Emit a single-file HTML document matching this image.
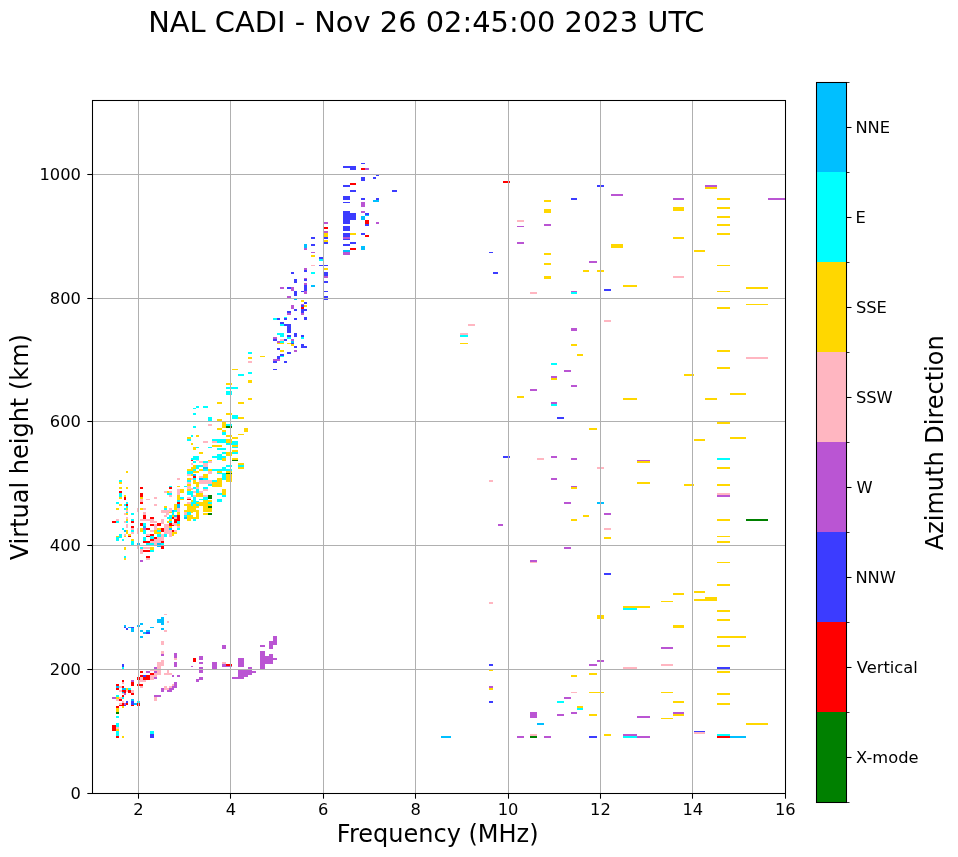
<!DOCTYPE html>
<html><head><meta charset="utf-8"><title>NAL CADI ionogram</title>
<style>
html,body{margin:0;padding:0;background:#fff}
body{width:958px;height:857px;overflow:hidden;font-family:"DejaVu Sans","Liberation Sans",sans-serif}
svg{display:block}
text{font-family:"DejaVu Sans","Liberation Sans",sans-serif;fill:#000}
</style></head><body>
<svg width="958" height="857" viewBox="0 0 958 857">
<rect width="958" height="857" fill="#fff"/>
<g id="cells" shape-rendering="crispEdges">
<rect x="122" y="664" width="2" height="3" fill="#3c3cff"/>
<rect x="122" y="667" width="2" height="2" fill="#00ffff"/>
<rect x="154" y="667" width="3" height="2" fill="#ba55d3"/>
<rect x="157" y="664" width="7" height="2" fill="#ffb6c1"/>
<rect x="157" y="666" width="4" height="3" fill="#ffb6c1"/>
<rect x="174" y="664" width="3" height="3" fill="#ba55d3"/>
<rect x="191" y="666" width="2" height="1" fill="#ba55d3"/>
<rect x="199" y="667" width="1" height="2" fill="#ba55d3"/>
<rect x="199" y="670" width="1" height="3" fill="#ba55d3"/>
<rect x="140" y="671" width="3" height="2" fill="#ff0000"/>
<rect x="146" y="671" width="4" height="2" fill="#ba55d3"/>
<rect x="154" y="671" width="3" height="2" fill="#ba55d3"/>
<rect x="157" y="669" width="4" height="6" fill="#ffb6c1"/>
<rect x="150" y="670" width="7" height="1" fill="#ffb6c1"/>
<rect x="150" y="673" width="4" height="2" fill="#ff0000"/>
<rect x="154" y="673" width="3" height="4" fill="#ffb6c1"/>
<rect x="164" y="673" width="8" height="2" fill="#ffb6c1"/>
<rect x="167" y="670" width="2" height="3" fill="#ffb6c1"/>
<rect x="172" y="675" width="2" height="2" fill="#ba55d3"/>
<rect x="177" y="675" width="3" height="2" fill="#ba55d3"/>
<rect x="140" y="675" width="3" height="2" fill="#ff0000"/>
<rect x="143" y="675" width="3" height="2" fill="#3c3cff"/>
<rect x="146" y="675" width="4" height="5" fill="#ff0000"/>
<rect x="143" y="677" width="3" height="3" fill="#ff0000"/>
<rect x="150" y="675" width="4" height="5" fill="#ffb6c1"/>
<rect x="154" y="677" width="3" height="2" fill="#ba55d3"/>
<rect x="137" y="677" width="3" height="3" fill="#ff0000"/>
<rect x="140" y="677" width="3" height="5" fill="#ffb6c1"/>
<rect x="143" y="680" width="3" height="2" fill="#ffb6c1"/>
<rect x="139" y="680" width="1" height="4" fill="#ffb6c1"/>
<rect x="122" y="680" width="2" height="2" fill="#ff0000"/>
<rect x="131" y="680" width="3" height="2" fill="#ba55d3"/>
<rect x="122" y="682" width="2" height="2" fill="#ffb6c1"/>
<rect x="131" y="682" width="3" height="4" fill="#ff0000"/>
<rect x="116" y="684" width="3" height="2" fill="#ff0000"/>
<rect x="137" y="684" width="6" height="2" fill="#ff0000"/>
<rect x="140" y="686" width="3" height="2" fill="#ffb6c1"/>
<rect x="116" y="686" width="3" height="2" fill="#00bfff"/>
<rect x="119" y="686" width="3" height="2" fill="#ffb6c1"/>
<rect x="122" y="686" width="2" height="2" fill="#ff0000"/>
<rect x="116" y="688" width="3" height="2" fill="#ff0000"/>
<rect x="122" y="688" width="4" height="2" fill="#00bfff"/>
<rect x="126" y="688" width="2" height="2" fill="#ffd700"/>
<rect x="128" y="688" width="3" height="2" fill="#00ffff"/>
<rect x="119" y="690" width="3" height="2" fill="#ffb6c1"/>
<rect x="122" y="690" width="4" height="3" fill="#ff0000"/>
<rect x="126" y="690" width="2" height="2" fill="#ffb6c1"/>
<rect x="128" y="690" width="3" height="3" fill="#ff0000"/>
<rect x="131" y="690" width="3" height="3" fill="#ffb6c1"/>
<rect x="122" y="692" width="2" height="1" fill="#00bfff"/>
<rect x="122" y="693" width="2" height="1" fill="#ffb6c1"/>
<rect x="124" y="693" width="2" height="2" fill="#ba55d3"/>
<rect x="131" y="693" width="3" height="2" fill="#ff0000"/>
<rect x="116" y="695" width="3" height="2" fill="#00ffff"/>
<rect x="122" y="695" width="2" height="2" fill="#ff0000"/>
<rect x="112" y="697" width="4" height="2" fill="#ba55d3"/>
<rect x="116" y="697" width="3" height="2" fill="#ffd700"/>
<rect x="119" y="697" width="3" height="2" fill="#ffb6c1"/>
<rect x="122" y="697" width="2" height="2" fill="#00ffff"/>
<rect x="116" y="699" width="3" height="2" fill="#ffb6c1"/>
<rect x="119" y="699" width="3" height="2" fill="#ff0000"/>
<rect x="131" y="699" width="3" height="2" fill="#00bfff"/>
<rect x="122" y="701" width="2" height="2" fill="#ffb6c1"/>
<rect x="126" y="701" width="2" height="2" fill="#3c3cff"/>
<rect x="131" y="701" width="3" height="4" fill="#3c3cff"/>
<rect x="137" y="701" width="3" height="2" fill="#00ffff"/>
<rect x="119" y="703" width="3" height="2" fill="#ffb6c1"/>
<rect x="122" y="703" width="2" height="3" fill="#ff0000"/>
<rect x="124" y="703" width="2" height="2" fill="#ba55d3"/>
<rect x="124" y="705" width="2" height="1" fill="#3c3cff"/>
<rect x="126" y="703" width="2" height="2" fill="#ff0000"/>
<rect x="134" y="703" width="3" height="2" fill="#00bfff"/>
<rect x="137" y="703" width="3" height="3" fill="#ff0000"/>
<rect x="119" y="705" width="3" height="1" fill="#ff0000"/>
<rect x="131" y="705" width="3" height="1" fill="#ff0000"/>
<rect x="116" y="706" width="3" height="2" fill="#ff0000"/>
<rect x="122" y="706" width="2" height="2" fill="#ffd700"/>
<rect x="116" y="708" width="3" height="4" fill="#ffd700"/>
<rect x="116" y="712" width="3" height="2" fill="#008000"/>
<rect x="116" y="716" width="3" height="2" fill="#00ffff"/>
<rect x="116" y="723" width="3" height="4" fill="#00ffff"/>
<rect x="112" y="725" width="4" height="6" fill="#ff0000"/>
<rect x="116" y="727" width="3" height="2" fill="#ffb6c1"/>
<rect x="116" y="729" width="3" height="2" fill="#ffd700"/>
<rect x="116" y="731" width="3" height="5" fill="#00ffff"/>
<rect x="116" y="736" width="3" height="2" fill="#ff0000"/>
<rect x="122" y="736" width="2" height="2" fill="#ffd700"/>
<rect x="150" y="731" width="4" height="3" fill="#00ffff"/>
<rect x="150" y="734" width="4" height="4" fill="#3c3cff"/>
<rect x="172" y="684" width="2" height="2" fill="#ffb6c1"/>
<rect x="174" y="682" width="3" height="6" fill="#ba55d3"/>
<rect x="164" y="686" width="3" height="4" fill="#ffb6c1"/>
<rect x="169" y="686" width="3" height="2" fill="#ffb6c1"/>
<rect x="172" y="686" width="2" height="4" fill="#ba55d3"/>
<rect x="161" y="688" width="3" height="4" fill="#ba55d3"/>
<rect x="169" y="688" width="3" height="4" fill="#ba55d3"/>
<rect x="167" y="690" width="2" height="2" fill="#ba55d3"/>
<rect x="167" y="688" width="2" height="2" fill="#ffb6c1"/>
<rect x="154" y="695" width="7" height="2" fill="#ba55d3"/>
<rect x="154" y="697" width="3" height="4" fill="#ffb6c1"/>
<rect x="196" y="679" width="3" height="3" fill="#ba55d3"/>
<rect x="199" y="677" width="1" height="3" fill="#ba55d3"/>
<rect x="200" y="656" width="3" height="4" fill="#ba55d3"/>
<rect x="200" y="662" width="3" height="2" fill="#ba55d3"/>
<rect x="200" y="667" width="3" height="6" fill="#ba55d3"/>
<rect x="200" y="677" width="3" height="3" fill="#ba55d3"/>
<rect x="212" y="662" width="5" height="7" fill="#ba55d3"/>
<rect x="222" y="645" width="4" height="4" fill="#ba55d3"/>
<rect x="222" y="662" width="4" height="2" fill="#ffb6c1"/>
<rect x="222" y="664" width="4" height="3" fill="#ba55d3"/>
<rect x="226" y="664" width="6" height="2" fill="#ff0000"/>
<rect x="226" y="666" width="6" height="1" fill="#ba55d3"/>
<rect x="238" y="658" width="6" height="9" fill="#ba55d3"/>
<rect x="248" y="667" width="4" height="2" fill="#ba55d3"/>
<rect x="238" y="670" width="14" height="5" fill="#ba55d3"/>
<rect x="252" y="671" width="4" height="2" fill="#ba55d3"/>
<rect x="238" y="675" width="10" height="2" fill="#ba55d3"/>
<rect x="232" y="677" width="12" height="2" fill="#ba55d3"/>
<rect x="260" y="645" width="5" height="2" fill="#ba55d3"/>
<rect x="260" y="651" width="5" height="18" fill="#ba55d3"/>
<rect x="265" y="656" width="8" height="8" fill="#ba55d3"/>
<rect x="269" y="654" width="4" height="2" fill="#ba55d3"/>
<rect x="273" y="658" width="4" height="2" fill="#ba55d3"/>
<rect x="269" y="641" width="4" height="8" fill="#ba55d3"/>
<rect x="273" y="636" width="4" height="9" fill="#ba55d3"/>
<rect x="124" y="625" width="2" height="2" fill="#00bfff"/>
<rect x="124" y="627" width="2" height="1" fill="#3c3cff"/>
<rect x="126" y="628" width="2" height="2" fill="#3c3cff"/>
<rect x="128" y="627" width="3" height="1" fill="#00bfff"/>
<rect x="131" y="627" width="3" height="1" fill="#3c3cff"/>
<rect x="131" y="628" width="3" height="4" fill="#00bfff"/>
<rect x="137" y="625" width="3" height="2" fill="#00bfff"/>
<rect x="140" y="623" width="3" height="2" fill="#00bfff"/>
<rect x="140" y="630" width="3" height="2" fill="#00bfff"/>
<rect x="143" y="632" width="3" height="2" fill="#00bfff"/>
<rect x="146" y="630" width="4" height="2" fill="#00bfff"/>
<rect x="146" y="632" width="4" height="2" fill="#3c3cff"/>
<rect x="140" y="636" width="3" height="2" fill="#00bfff"/>
<rect x="150" y="627" width="4" height="1" fill="#00bfff"/>
<rect x="157" y="619" width="4" height="4" fill="#00bfff"/>
<rect x="161" y="617" width="3" height="8" fill="#00bfff"/>
<rect x="161" y="628" width="3" height="2" fill="#00bfff"/>
<rect x="164" y="614" width="3" height="1" fill="#ffb6c1"/>
<rect x="167" y="621" width="2" height="2" fill="#ffb6c1"/>
<rect x="164" y="630" width="3" height="2" fill="#ffb6c1"/>
<rect x="161" y="641" width="3" height="4" fill="#ffb6c1"/>
<rect x="161" y="651" width="3" height="3" fill="#ffb6c1"/>
<rect x="161" y="654" width="3" height="2" fill="#ba55d3"/>
<rect x="161" y="660" width="3" height="4" fill="#ffb6c1"/>
<rect x="157" y="662" width="4" height="2" fill="#ffb6c1"/>
<rect x="174" y="653" width="3" height="5" fill="#ba55d3"/>
<rect x="174" y="658" width="3" height="2" fill="#ffb6c1"/>
<rect x="174" y="662" width="3" height="2" fill="#ba55d3"/>
<rect x="193" y="658" width="3" height="4" fill="#ff0000"/>
<rect x="199" y="656" width="1" height="4" fill="#ba55d3"/>
<rect x="199" y="662" width="1" height="2" fill="#ba55d3"/>
<rect x="119" y="487" width="3" height="2" fill="#ffd700"/>
<rect x="126" y="487" width="2" height="2" fill="#ffd700"/>
<rect x="119" y="491" width="3" height="2" fill="#ff0000"/>
<rect x="119" y="493" width="3" height="4" fill="#00ffff"/>
<rect x="119" y="497" width="3" height="2" fill="#ffd700"/>
<rect x="124" y="495" width="2" height="2" fill="#ffd700"/>
<rect x="124" y="497" width="2" height="3" fill="#ff0000"/>
<rect x="116" y="502" width="3" height="2" fill="#00ffff"/>
<rect x="126" y="502" width="2" height="2" fill="#00ffff"/>
<rect x="119" y="504" width="3" height="2" fill="#ffd700"/>
<rect x="124" y="504" width="2" height="2" fill="#00ffff"/>
<rect x="126" y="504" width="2" height="2" fill="#ff0000"/>
<rect x="126" y="506" width="2" height="2" fill="#00ffff"/>
<rect x="116" y="508" width="3" height="2" fill="#ffd700"/>
<rect x="124" y="508" width="2" height="2" fill="#00ffff"/>
<rect x="126" y="508" width="2" height="2" fill="#ffd700"/>
<rect x="126" y="510" width="2" height="2" fill="#ffb6c1"/>
<rect x="126" y="512" width="2" height="1" fill="#00ffff"/>
<rect x="124" y="513" width="2" height="2" fill="#ffb6c1"/>
<rect x="126" y="513" width="2" height="2" fill="#ffd700"/>
<rect x="131" y="513" width="3" height="2" fill="#00ffff"/>
<rect x="126" y="517" width="2" height="2" fill="#ffb6c1"/>
<rect x="126" y="519" width="2" height="2" fill="#ffd700"/>
<rect x="131" y="519" width="3" height="2" fill="#00ffff"/>
<rect x="116" y="519" width="3" height="2" fill="#ffb6c1"/>
<rect x="112" y="521" width="4" height="2" fill="#ff0000"/>
<rect x="116" y="521" width="3" height="2" fill="#00ffff"/>
<rect x="124" y="521" width="2" height="2" fill="#ffb6c1"/>
<rect x="126" y="521" width="2" height="2" fill="#00ffff"/>
<rect x="131" y="521" width="3" height="2" fill="#ff0000"/>
<rect x="126" y="524" width="2" height="4" fill="#ffb6c1"/>
<rect x="131" y="526" width="3" height="2" fill="#ff0000"/>
<rect x="131" y="528" width="3" height="2" fill="#ffb6c1"/>
<rect x="122" y="528" width="2" height="2" fill="#00ffff"/>
<rect x="124" y="530" width="2" height="2" fill="#00bfff"/>
<rect x="126" y="530" width="2" height="4" fill="#ffd700"/>
<rect x="131" y="530" width="3" height="2" fill="#00ffff"/>
<rect x="131" y="532" width="3" height="2" fill="#ffb6c1"/>
<rect x="119" y="534" width="3" height="4" fill="#00ffff"/>
<rect x="124" y="534" width="2" height="2" fill="#ffb6c1"/>
<rect x="124" y="536" width="2" height="1" fill="#ffd700"/>
<rect x="128" y="534" width="3" height="2" fill="#ffd700"/>
<rect x="128" y="536" width="3" height="1" fill="#ff0000"/>
<rect x="116" y="536" width="3" height="1" fill="#ffd700"/>
<rect x="116" y="537" width="3" height="4" fill="#00ffff"/>
<rect x="122" y="539" width="2" height="2" fill="#00ffff"/>
<rect x="131" y="539" width="3" height="2" fill="#ffd700"/>
<rect x="131" y="541" width="3" height="4" fill="#00ffff"/>
<rect x="137" y="543" width="3" height="2" fill="#00bfff"/>
<rect x="124" y="547" width="2" height="3" fill="#ffd700"/>
<rect x="124" y="556" width="2" height="2" fill="#00ffff"/>
<rect x="124" y="558" width="2" height="2" fill="#ffd700"/>
<rect x="140" y="487" width="3" height="2" fill="#ff0000"/>
<rect x="140" y="493" width="3" height="4" fill="#ff0000"/>
<rect x="140" y="497" width="3" height="2" fill="#ffd700"/>
<rect x="140" y="499" width="3" height="3" fill="#ffb6c1"/>
<rect x="140" y="502" width="3" height="2" fill="#ff0000"/>
<rect x="146" y="499" width="4" height="1" fill="#ffb6c1"/>
<rect x="154" y="497" width="3" height="2" fill="#ffb6c1"/>
<rect x="154" y="504" width="3" height="2" fill="#ffb6c1"/>
<rect x="137" y="508" width="2" height="4" fill="#ffb6c1"/>
<rect x="140" y="508" width="3" height="2" fill="#ffd700"/>
<rect x="143" y="508" width="3" height="2" fill="#ffb6c1"/>
<rect x="143" y="512" width="3" height="3" fill="#ffb6c1"/>
<rect x="143" y="515" width="3" height="4" fill="#ff0000"/>
<rect x="150" y="517" width="4" height="2" fill="#ff0000"/>
<rect x="140" y="519" width="14" height="2" fill="#ffb6c1"/>
<rect x="150" y="521" width="7" height="2" fill="#ffb6c1"/>
<rect x="140" y="523" width="3" height="3" fill="#ff0000"/>
<rect x="143" y="523" width="3" height="3" fill="#00ffff"/>
<rect x="143" y="526" width="3" height="2" fill="#00bfff"/>
<rect x="150" y="524" width="4" height="2" fill="#ff0000"/>
<rect x="157" y="523" width="4" height="3" fill="#ff0000"/>
<rect x="154" y="524" width="3" height="6" fill="#ffb6c1"/>
<rect x="140" y="528" width="3" height="4" fill="#ffd700"/>
<rect x="143" y="528" width="3" height="2" fill="#ba55d3"/>
<rect x="146" y="528" width="4" height="2" fill="#ff0000"/>
<rect x="143" y="530" width="3" height="4" fill="#00ffff"/>
<rect x="150" y="530" width="4" height="2" fill="#ffb6c1"/>
<rect x="154" y="530" width="3" height="4" fill="#ffd700"/>
<rect x="157" y="530" width="4" height="2" fill="#00ffff"/>
<rect x="157" y="528" width="4" height="2" fill="#ffd700"/>
<rect x="161" y="528" width="3" height="4" fill="#ff0000"/>
<rect x="157" y="532" width="4" height="2" fill="#ffd700"/>
<rect x="137" y="528" width="2" height="6" fill="#ffb6c1"/>
<rect x="146" y="534" width="4" height="2" fill="#ffb6c1"/>
<rect x="150" y="534" width="4" height="2" fill="#ff0000"/>
<rect x="146" y="536" width="4" height="1" fill="#ff0000"/>
<rect x="150" y="536" width="4" height="3" fill="#00ffff"/>
<rect x="157" y="534" width="4" height="3" fill="#00ffff"/>
<rect x="161" y="534" width="3" height="5" fill="#ffb6c1"/>
<rect x="164" y="532" width="3" height="5" fill="#00ffff"/>
<rect x="143" y="537" width="3" height="4" fill="#00ffff"/>
<rect x="154" y="537" width="3" height="2" fill="#ff0000"/>
<rect x="150" y="539" width="4" height="2" fill="#ff0000"/>
<rect x="154" y="539" width="10" height="2" fill="#ffb6c1"/>
<rect x="157" y="537" width="4" height="2" fill="#ffb6c1"/>
<rect x="143" y="541" width="7" height="2" fill="#ff0000"/>
<rect x="150" y="541" width="7" height="2" fill="#ffb6c1"/>
<rect x="157" y="541" width="4" height="2" fill="#ffb6c1"/>
<rect x="161" y="541" width="3" height="2" fill="#ff0000"/>
<rect x="146" y="543" width="8" height="2" fill="#00ffff"/>
<rect x="154" y="543" width="3" height="2" fill="#ffb6c1"/>
<rect x="157" y="543" width="4" height="2" fill="#00bfff"/>
<rect x="161" y="543" width="3" height="2" fill="#00ffff"/>
<rect x="137" y="545" width="2" height="4" fill="#ffb6c1"/>
<rect x="140" y="547" width="3" height="2" fill="#00ffff"/>
<rect x="143" y="547" width="7" height="2" fill="#ffb6c1"/>
<rect x="150" y="547" width="4" height="3" fill="#ffd700"/>
<rect x="157" y="545" width="4" height="2" fill="#00bfff"/>
<rect x="161" y="546" width="3" height="3" fill="#ff0000"/>
<rect x="140" y="549" width="3" height="5" fill="#ffb6c1"/>
<rect x="143" y="550" width="7" height="2" fill="#ff0000"/>
<rect x="150" y="550" width="4" height="2" fill="#00ffff"/>
<rect x="146" y="556" width="4" height="2" fill="#ff0000"/>
<rect x="146" y="558" width="4" height="2" fill="#ffb6c1"/>
<rect x="140" y="560" width="3" height="2" fill="#ba55d3"/>
<rect x="161" y="519" width="3" height="5" fill="#ffb6c1"/>
<rect x="164" y="524" width="5" height="10" fill="#ffb6c1"/>
<rect x="169" y="532" width="3" height="5" fill="#ffb6c1"/>
<rect x="161" y="510" width="8" height="3" fill="#ffb6c1"/>
<rect x="166" y="513" width="3" height="2" fill="#ffb6c1"/>
<rect x="164" y="515" width="3" height="2" fill="#ffb6c1"/>
<rect x="164" y="506" width="3" height="2" fill="#ffd700"/>
<rect x="164" y="508" width="3" height="2" fill="#00ffff"/>
<rect x="169" y="508" width="3" height="4" fill="#ffb6c1"/>
<rect x="169" y="486" width="3" height="1" fill="#00ffff"/>
<rect x="169" y="487" width="3" height="2" fill="#ff0000"/>
<rect x="177" y="486" width="3" height="1" fill="#ffd700"/>
<rect x="164" y="491" width="3" height="2" fill="#ffb6c1"/>
<rect x="167" y="491" width="2" height="2" fill="#ffd700"/>
<rect x="169" y="491" width="3" height="2" fill="#ffb6c1"/>
<rect x="167" y="493" width="5" height="2" fill="#00ffff"/>
<rect x="169" y="495" width="3" height="2" fill="#ffb6c1"/>
<rect x="177" y="489" width="3" height="6" fill="#ffb6c1"/>
<rect x="180" y="489" width="4" height="4" fill="#ffd700"/>
<rect x="177" y="495" width="3" height="5" fill="#ffd700"/>
<rect x="180" y="497" width="4" height="2" fill="#00ffff"/>
<rect x="180" y="499" width="4" height="1" fill="#ffd700"/>
<rect x="177" y="500" width="3" height="2" fill="#00ffff"/>
<rect x="177" y="502" width="3" height="2" fill="#ff0000"/>
<rect x="177" y="504" width="3" height="4" fill="#00bfff"/>
<rect x="174" y="504" width="3" height="6" fill="#ffd700"/>
<rect x="177" y="508" width="3" height="4" fill="#ffb6c1"/>
<rect x="172" y="510" width="2" height="2" fill="#00bfff"/>
<rect x="174" y="510" width="3" height="2" fill="#00ffff"/>
<rect x="172" y="512" width="2" height="3" fill="#00ffff"/>
<rect x="177" y="512" width="3" height="3" fill="#ffd700"/>
<rect x="169" y="512" width="3" height="1" fill="#ffd700"/>
<rect x="169" y="515" width="3" height="4" fill="#00ffff"/>
<rect x="167" y="517" width="2" height="2" fill="#00ffff"/>
<rect x="174" y="515" width="3" height="2" fill="#00bfff"/>
<rect x="177" y="515" width="3" height="6" fill="#ff0000"/>
<rect x="172" y="515" width="2" height="2" fill="#ffd700"/>
<rect x="172" y="517" width="2" height="2" fill="#ff0000"/>
<rect x="174" y="517" width="3" height="2" fill="#ffb6c1"/>
<rect x="174" y="519" width="3" height="4" fill="#ff0000"/>
<rect x="169" y="519" width="3" height="2" fill="#ffd700"/>
<rect x="169" y="521" width="3" height="2" fill="#00ffff"/>
<rect x="167" y="521" width="2" height="2" fill="#ffd700"/>
<rect x="169" y="523" width="5" height="3" fill="#ff0000"/>
<rect x="169" y="526" width="3" height="2" fill="#ffd700"/>
<rect x="169" y="528" width="3" height="2" fill="#00bfff"/>
<rect x="172" y="523" width="2" height="2" fill="#ffb6c1"/>
<rect x="174" y="523" width="3" height="3" fill="#ffb6c1"/>
<rect x="177" y="521" width="3" height="3" fill="#00ffff"/>
<rect x="177" y="524" width="3" height="2" fill="#ffd700"/>
<rect x="177" y="526" width="3" height="2" fill="#ffb6c1"/>
<rect x="177" y="528" width="3" height="2" fill="#00ffff"/>
<rect x="172" y="530" width="2" height="2" fill="#ff0000"/>
<rect x="174" y="530" width="3" height="2" fill="#ffb6c1"/>
<rect x="172" y="532" width="5" height="2" fill="#ffd700"/>
<rect x="172" y="534" width="2" height="2" fill="#ffd700"/>
<rect x="169" y="530" width="3" height="2" fill="#ffb6c1"/>
<rect x="184" y="486" width="3" height="1" fill="#00ffff"/>
<rect x="187" y="484" width="4" height="2" fill="#ffd700"/>
<rect x="196" y="484" width="3" height="3" fill="#ffd700"/>
<rect x="187" y="486" width="4" height="3" fill="#ffb6c1"/>
<rect x="193" y="487" width="3" height="2" fill="#00ffff"/>
<rect x="196" y="487" width="3" height="2" fill="#ffb6c1"/>
<rect x="187" y="489" width="4" height="2" fill="#ffd700"/>
<rect x="196" y="489" width="3" height="4" fill="#00ffff"/>
<rect x="187" y="491" width="6" height="4" fill="#00ffff"/>
<rect x="193" y="491" width="3" height="2" fill="#ffb6c1"/>
<rect x="199" y="491" width="3" height="2" fill="#ffb6c1"/>
<rect x="196" y="493" width="6" height="4" fill="#ffd700"/>
<rect x="191" y="495" width="2" height="2" fill="#00ffff"/>
<rect x="193" y="495" width="3" height="2" fill="#ffb6c1"/>
<rect x="187" y="497" width="4" height="2" fill="#ffb6c1"/>
<rect x="187" y="499" width="4" height="1" fill="#ff0000"/>
<rect x="193" y="497" width="3" height="7" fill="#00ffff"/>
<rect x="191" y="500" width="2" height="2" fill="#ffd700"/>
<rect x="199" y="499" width="3" height="1" fill="#00ffff"/>
<rect x="187" y="502" width="4" height="2" fill="#ffb6c1"/>
<rect x="196" y="502" width="6" height="4" fill="#ffd700"/>
<rect x="196" y="504" width="3" height="2" fill="#00ffff"/>
<rect x="184" y="504" width="3" height="2" fill="#ffd700"/>
<rect x="187" y="504" width="12" height="6" fill="#ffd700"/>
<rect x="191" y="502" width="2" height="4" fill="#00ffff"/>
<rect x="184" y="510" width="15" height="2" fill="#ffd700"/>
<rect x="184" y="512" width="3" height="3" fill="#ffb6c1"/>
<rect x="187" y="512" width="4" height="3" fill="#00ffff"/>
<rect x="191" y="512" width="2" height="2" fill="#ffd700"/>
<rect x="196" y="510" width="3" height="8" fill="#ffd700"/>
<rect x="184" y="515" width="3" height="2" fill="#00ffff"/>
<rect x="184" y="517" width="3" height="2" fill="#00bfff"/>
<rect x="187" y="515" width="6" height="6" fill="#ffd700"/>
<rect x="193" y="517" width="6" height="2" fill="#ffd700"/>
<rect x="193" y="519" width="3" height="2" fill="#00ffff"/>
<rect x="196" y="406" width="3" height="2" fill="#00ffff"/>
<rect x="193" y="408" width="3" height="1" fill="#00ffff"/>
<rect x="193" y="413" width="3" height="2" fill="#00ffff"/>
<rect x="193" y="426" width="3" height="2" fill="#00ffff"/>
<rect x="191" y="435" width="2" height="2" fill="#00ffff"/>
<rect x="196" y="435" width="3" height="2" fill="#ffd700"/>
<rect x="187" y="437" width="4" height="2" fill="#ffd700"/>
<rect x="187" y="439" width="4" height="2" fill="#00ffff"/>
<rect x="191" y="443" width="2" height="2" fill="#ffd700"/>
<rect x="193" y="447" width="3" height="3" fill="#ffd700"/>
<rect x="196" y="447" width="3" height="1" fill="#00ffff"/>
<rect x="199" y="452" width="3" height="2" fill="#ffd700"/>
<rect x="193" y="456" width="6" height="4" fill="#00ffff"/>
<rect x="191" y="458" width="2" height="2" fill="#00ffff"/>
<rect x="191" y="460" width="2" height="1" fill="#ff0000"/>
<rect x="193" y="461" width="3" height="2" fill="#00ffff"/>
<rect x="196" y="460" width="3" height="1" fill="#ffb6c1"/>
<rect x="199" y="461" width="3" height="2" fill="#ffb6c1"/>
<rect x="191" y="463" width="2" height="2" fill="#ffb6c1"/>
<rect x="193" y="465" width="3" height="4" fill="#ffd700"/>
<rect x="196" y="465" width="6" height="2" fill="#00ffff"/>
<rect x="196" y="467" width="3" height="2" fill="#00ffff"/>
<rect x="191" y="467" width="2" height="2" fill="#ffd700"/>
<rect x="187" y="469" width="6" height="2" fill="#ffd700"/>
<rect x="193" y="469" width="3" height="2" fill="#00ffff"/>
<rect x="199" y="469" width="3" height="2" fill="#ffd700"/>
<rect x="187" y="471" width="6" height="3" fill="#00ffff"/>
<rect x="193" y="471" width="6" height="2" fill="#ffd700"/>
<rect x="187" y="474" width="4" height="2" fill="#ffb6c1"/>
<rect x="191" y="474" width="2" height="2" fill="#ffd700"/>
<rect x="193" y="474" width="3" height="2" fill="#00bfff"/>
<rect x="193" y="476" width="3" height="2" fill="#ff0000"/>
<rect x="199" y="476" width="3" height="2" fill="#ffb6c1"/>
<rect x="177" y="478" width="3" height="2" fill="#ffb6c1"/>
<rect x="187" y="478" width="4" height="2" fill="#ffd700"/>
<rect x="191" y="478" width="2" height="2" fill="#ffb6c1"/>
<rect x="193" y="478" width="3" height="2" fill="#00ffff"/>
<rect x="199" y="478" width="3" height="2" fill="#00bfff"/>
<rect x="187" y="480" width="4" height="2" fill="#00ffff"/>
<rect x="193" y="480" width="3" height="4" fill="#ffd700"/>
<rect x="187" y="482" width="4" height="2" fill="#ffb6c1"/>
<rect x="196" y="482" width="3" height="2" fill="#ffd700"/>
<rect x="199" y="480" width="3" height="4" fill="#ffb6c1"/>
<rect x="126" y="471" width="2" height="2" fill="#ffd700"/>
<rect x="119" y="480" width="3" height="2" fill="#00ffff"/>
<rect x="119" y="482" width="3" height="2" fill="#ffd700"/>
<rect x="208" y="484" width="4" height="2" fill="#00ffff"/>
<rect x="212" y="484" width="10" height="3" fill="#ffd700"/>
<rect x="203" y="487" width="5" height="2" fill="#00ffff"/>
<rect x="203" y="489" width="5" height="2" fill="#ffb6c1"/>
<rect x="198" y="487" width="1" height="2" fill="#ffb6c1"/>
<rect x="198" y="489" width="1" height="4" fill="#00ffff"/>
<rect x="199" y="491" width="4" height="2" fill="#ffb6c1"/>
<rect x="198" y="493" width="5" height="4" fill="#ffd700"/>
<rect x="222" y="489" width="4" height="6" fill="#ffd700"/>
<rect x="217" y="493" width="5" height="2" fill="#00ffff"/>
<rect x="222" y="495" width="4" height="2" fill="#00ffff"/>
<rect x="203" y="495" width="5" height="2" fill="#ffb6c1"/>
<rect x="208" y="495" width="4" height="4" fill="#008000"/>
<rect x="203" y="497" width="5" height="3" fill="#00ffff"/>
<rect x="199" y="499" width="4" height="1" fill="#00ffff"/>
<rect x="217" y="499" width="5" height="3" fill="#00ffff"/>
<rect x="203" y="500" width="9" height="2" fill="#ffd700"/>
<rect x="198" y="502" width="10" height="4" fill="#ffd700"/>
<rect x="208" y="502" width="4" height="2" fill="#00ffff"/>
<rect x="208" y="504" width="4" height="2" fill="#ffd700"/>
<rect x="198" y="504" width="1" height="2" fill="#00ffff"/>
<rect x="198" y="506" width="1" height="2" fill="#ffd700"/>
<rect x="203" y="506" width="5" height="6" fill="#ffd700"/>
<rect x="208" y="506" width="4" height="2" fill="#008000"/>
<rect x="208" y="508" width="4" height="4" fill="#ffd700"/>
<rect x="203" y="513" width="5" height="2" fill="#ffd700"/>
<rect x="208" y="513" width="4" height="2" fill="#008000"/>
<rect x="198" y="510" width="1" height="9" fill="#ffd700"/>
<rect x="248" y="398" width="4" height="2" fill="#ffd700"/>
<rect x="217" y="402" width="5" height="2" fill="#ffd700"/>
<rect x="238" y="402" width="6" height="2" fill="#ffd700"/>
<rect x="198" y="406" width="1" height="2" fill="#00ffff"/>
<rect x="203" y="406" width="5" height="2" fill="#00ffff"/>
<rect x="226" y="413" width="6" height="2" fill="#ffd700"/>
<rect x="232" y="415" width="6" height="4" fill="#00ffff"/>
<rect x="238" y="417" width="6" height="2" fill="#ffd700"/>
<rect x="208" y="417" width="4" height="4" fill="#00ffff"/>
<rect x="217" y="419" width="5" height="2" fill="#ffd700"/>
<rect x="222" y="422" width="4" height="6" fill="#ffd700"/>
<rect x="226" y="424" width="6" height="2" fill="#00ffff"/>
<rect x="226" y="426" width="6" height="2" fill="#008000"/>
<rect x="208" y="424" width="4" height="2" fill="#ffb6c1"/>
<rect x="217" y="428" width="5" height="2" fill="#ffd700"/>
<rect x="222" y="430" width="4" height="2" fill="#ffd700"/>
<rect x="222" y="432" width="4" height="3" fill="#00ffff"/>
<rect x="244" y="428" width="4" height="4" fill="#ffd700"/>
<rect x="238" y="434" width="6" height="1" fill="#ffd700"/>
<rect x="198" y="435" width="1" height="2" fill="#ffd700"/>
<rect x="226" y="435" width="6" height="2" fill="#ffd700"/>
<rect x="232" y="437" width="6" height="2" fill="#ffd700"/>
<rect x="212" y="439" width="14" height="2" fill="#00ffff"/>
<rect x="217" y="441" width="9" height="2" fill="#00ffff"/>
<rect x="226" y="439" width="6" height="4" fill="#ffd700"/>
<rect x="203" y="441" width="5" height="2" fill="#ffb6c1"/>
<rect x="212" y="441" width="5" height="2" fill="#ffb6c1"/>
<rect x="232" y="441" width="6" height="4" fill="#00ffff"/>
<rect x="226" y="443" width="6" height="2" fill="#00ffff"/>
<rect x="212" y="445" width="10" height="2" fill="#ffd700"/>
<rect x="232" y="445" width="6" height="2" fill="#ffd700"/>
<rect x="232" y="447" width="6" height="1" fill="#00ffff"/>
<rect x="198" y="447" width="1" height="1" fill="#00ffff"/>
<rect x="208" y="447" width="4" height="1" fill="#00ffff"/>
<rect x="217" y="448" width="9" height="2" fill="#00ffff"/>
<rect x="232" y="450" width="6" height="2" fill="#ffd700"/>
<rect x="232" y="452" width="6" height="2" fill="#00ffff"/>
<rect x="199" y="452" width="4" height="2" fill="#ffd700"/>
<rect x="222" y="452" width="4" height="2" fill="#00ffff"/>
<rect x="226" y="452" width="6" height="4" fill="#ffd700"/>
<rect x="217" y="454" width="5" height="6" fill="#00ffff"/>
<rect x="212" y="456" width="5" height="2" fill="#00ffff"/>
<rect x="222" y="456" width="4" height="2" fill="#00ffff"/>
<rect x="222" y="458" width="4" height="3" fill="#ffd700"/>
<rect x="198" y="456" width="1" height="4" fill="#00ffff"/>
<rect x="232" y="458" width="6" height="2" fill="#ffd700"/>
<rect x="232" y="460" width="6" height="1" fill="#008000"/>
<rect x="208" y="460" width="4" height="1" fill="#ffd700"/>
<rect x="199" y="461" width="4" height="2" fill="#ffb6c1"/>
<rect x="203" y="461" width="5" height="2" fill="#00ffff"/>
<rect x="208" y="461" width="4" height="2" fill="#ffb6c1"/>
<rect x="203" y="463" width="5" height="4" fill="#ffb6c1"/>
<rect x="203" y="467" width="5" height="2" fill="#00bfff"/>
<rect x="198" y="465" width="5" height="2" fill="#00ffff"/>
<rect x="226" y="465" width="6" height="2" fill="#00ffff"/>
<rect x="238" y="463" width="6" height="2" fill="#ffd700"/>
<rect x="238" y="465" width="6" height="2" fill="#00ffff"/>
<rect x="238" y="467" width="6" height="2" fill="#ffd700"/>
<rect x="222" y="467" width="4" height="4" fill="#00ffff"/>
<rect x="199" y="469" width="4" height="2" fill="#ffd700"/>
<rect x="203" y="469" width="5" height="2" fill="#00ffff"/>
<rect x="208" y="469" width="4" height="2" fill="#ffd700"/>
<rect x="212" y="469" width="20" height="2" fill="#00ffff"/>
<rect x="198" y="471" width="1" height="2" fill="#ffd700"/>
<rect x="208" y="471" width="4" height="3" fill="#ffb6c1"/>
<rect x="217" y="471" width="5" height="2" fill="#ffd700"/>
<rect x="226" y="471" width="6" height="2" fill="#ffd700"/>
<rect x="226" y="473" width="6" height="1" fill="#008000"/>
<rect x="217" y="473" width="5" height="1" fill="#00ffff"/>
<rect x="222" y="473" width="4" height="7" fill="#00ffff"/>
<rect x="226" y="474" width="6" height="8" fill="#ffd700"/>
<rect x="203" y="474" width="5" height="4" fill="#ffd700"/>
<rect x="199" y="476" width="4" height="2" fill="#ffb6c1"/>
<rect x="199" y="478" width="4" height="2" fill="#00bfff"/>
<rect x="203" y="478" width="5" height="2" fill="#00ffff"/>
<rect x="203" y="480" width="5" height="2" fill="#ffd700"/>
<rect x="199" y="480" width="13" height="4" fill="#ffb6c1"/>
<rect x="212" y="480" width="5" height="2" fill="#00ffff"/>
<rect x="217" y="478" width="5" height="6" fill="#ffd700"/>
<rect x="212" y="482" width="5" height="2" fill="#ffd700"/>
<rect x="287" y="312" width="4" height="1" fill="#3c3cff"/>
<rect x="287" y="313" width="4" height="2" fill="#ba55d3"/>
<rect x="284" y="317" width="3" height="1" fill="#00ffff"/>
<rect x="273" y="318" width="4" height="2" fill="#00ffff"/>
<rect x="277" y="318" width="3" height="2" fill="#3c3cff"/>
<rect x="284" y="318" width="3" height="2" fill="#3c3cff"/>
<rect x="280" y="322" width="4" height="2" fill="#3c3cff"/>
<rect x="280" y="324" width="4" height="2" fill="#00ffff"/>
<rect x="284" y="324" width="7" height="2" fill="#3c3cff"/>
<rect x="287" y="326" width="4" height="7" fill="#3c3cff"/>
<rect x="277" y="333" width="7" height="2" fill="#00ffff"/>
<rect x="280" y="335" width="4" height="2" fill="#00ffff"/>
<rect x="287" y="335" width="4" height="2" fill="#3c3cff"/>
<rect x="273" y="337" width="4" height="2" fill="#ba55d3"/>
<rect x="287" y="337" width="4" height="2" fill="#00ffff"/>
<rect x="273" y="339" width="4" height="2" fill="#3c3cff"/>
<rect x="280" y="339" width="4" height="2" fill="#ffb6c1"/>
<rect x="284" y="339" width="3" height="2" fill="#3c3cff"/>
<rect x="291" y="339" width="3" height="2" fill="#ba55d3"/>
<rect x="277" y="341" width="3" height="2" fill="#ba55d3"/>
<rect x="280" y="341" width="4" height="2" fill="#00ffff"/>
<rect x="291" y="341" width="3" height="2" fill="#00bfff"/>
<rect x="291" y="343" width="3" height="1" fill="#3c3cff"/>
<rect x="277" y="343" width="7" height="1" fill="#ffd700"/>
<rect x="287" y="343" width="4" height="1" fill="#ffd700"/>
<rect x="291" y="344" width="3" height="2" fill="#ffd700"/>
<rect x="277" y="348" width="3" height="2" fill="#3c3cff"/>
<rect x="280" y="350" width="4" height="2" fill="#ffd700"/>
<rect x="287" y="352" width="4" height="2" fill="#3c3cff"/>
<rect x="280" y="354" width="4" height="2" fill="#3c3cff"/>
<rect x="280" y="356" width="4" height="1" fill="#00ffff"/>
<rect x="277" y="356" width="3" height="3" fill="#3c3cff"/>
<rect x="273" y="359" width="7" height="2" fill="#ba55d3"/>
<rect x="273" y="361" width="4" height="2" fill="#3c3cff"/>
<rect x="284" y="361" width="3" height="2" fill="#3c3cff"/>
<rect x="273" y="369" width="4" height="1" fill="#3c3cff"/>
<rect x="248" y="352" width="4" height="2" fill="#00ffff"/>
<rect x="260" y="356" width="5" height="1" fill="#ffd700"/>
<rect x="248" y="357" width="4" height="2" fill="#ffd700"/>
<rect x="248" y="361" width="4" height="2" fill="#ffb6c1"/>
<rect x="232" y="369" width="6" height="1" fill="#ffd700"/>
<rect x="248" y="372" width="4" height="2" fill="#00ffff"/>
<rect x="238" y="374" width="6" height="2" fill="#00ffff"/>
<rect x="248" y="380" width="4" height="3" fill="#ffd700"/>
<rect x="226" y="383" width="6" height="2" fill="#ffd700"/>
<rect x="226" y="387" width="12" height="2" fill="#00ffff"/>
<rect x="226" y="391" width="6" height="4" fill="#00ffff"/>
<rect x="324" y="227" width="4" height="2" fill="#ff0000"/>
<rect x="324" y="231" width="4" height="2" fill="#ba55d3"/>
<rect x="324" y="233" width="4" height="4" fill="#ffd700"/>
<rect x="324" y="237" width="4" height="2" fill="#3c3cff"/>
<rect x="324" y="240" width="4" height="2" fill="#ffd700"/>
<rect x="324" y="242" width="4" height="2" fill="#3c3cff"/>
<rect x="311" y="237" width="4" height="2" fill="#3c3cff"/>
<rect x="311" y="244" width="4" height="2" fill="#3c3cff"/>
<rect x="304" y="244" width="3" height="4" fill="#00bfff"/>
<rect x="304" y="248" width="3" height="2" fill="#ba55d3"/>
<rect x="311" y="252" width="4" height="1" fill="#ba55d3"/>
<rect x="311" y="255" width="4" height="2" fill="#ffd700"/>
<rect x="319" y="257" width="4" height="2" fill="#3c3cff"/>
<rect x="319" y="259" width="4" height="2" fill="#00ffff"/>
<rect x="311" y="265" width="4" height="1" fill="#ffb6c1"/>
<rect x="319" y="265" width="9" height="1" fill="#3c3cff"/>
<rect x="324" y="268" width="4" height="2" fill="#ffd700"/>
<rect x="304" y="268" width="3" height="2" fill="#ba55d3"/>
<rect x="304" y="270" width="3" height="2" fill="#3c3cff"/>
<rect x="291" y="272" width="3" height="2" fill="#3c3cff"/>
<rect x="311" y="272" width="4" height="2" fill="#00ffff"/>
<rect x="324" y="272" width="4" height="4" fill="#3c3cff"/>
<rect x="324" y="276" width="4" height="2" fill="#ba55d3"/>
<rect x="304" y="278" width="3" height="1" fill="#ba55d3"/>
<rect x="304" y="279" width="3" height="2" fill="#3c3cff"/>
<rect x="294" y="279" width="3" height="4" fill="#3c3cff"/>
<rect x="324" y="281" width="4" height="2" fill="#3c3cff"/>
<rect x="304" y="283" width="3" height="2" fill="#ba55d3"/>
<rect x="304" y="285" width="3" height="6" fill="#3c3cff"/>
<rect x="311" y="285" width="4" height="2" fill="#00bfff"/>
<rect x="280" y="287" width="4" height="2" fill="#ba55d3"/>
<rect x="287" y="287" width="4" height="2" fill="#3c3cff"/>
<rect x="291" y="287" width="3" height="4" fill="#ba55d3"/>
<rect x="301" y="291" width="3" height="1" fill="#3c3cff"/>
<rect x="304" y="291" width="3" height="3" fill="#ba55d3"/>
<rect x="294" y="291" width="3" height="5" fill="#3c3cff"/>
<rect x="324" y="291" width="4" height="1" fill="#3c3cff"/>
<rect x="287" y="296" width="4" height="2" fill="#ba55d3"/>
<rect x="324" y="296" width="4" height="2" fill="#3c3cff"/>
<rect x="294" y="299" width="3" height="1" fill="#00bfff"/>
<rect x="324" y="299" width="4" height="1" fill="#3c3cff"/>
<rect x="301" y="300" width="3" height="2" fill="#ffd700"/>
<rect x="304" y="302" width="3" height="2" fill="#3c3cff"/>
<rect x="301" y="304" width="3" height="1" fill="#ba55d3"/>
<rect x="301" y="305" width="3" height="2" fill="#3c3cff"/>
<rect x="304" y="305" width="3" height="2" fill="#ffd700"/>
<rect x="291" y="305" width="3" height="4" fill="#ba55d3"/>
<rect x="301" y="307" width="3" height="2" fill="#ff0000"/>
<rect x="294" y="309" width="3" height="2" fill="#3c3cff"/>
<rect x="301" y="309" width="6" height="2" fill="#3c3cff"/>
<rect x="301" y="311" width="3" height="1" fill="#3c3cff"/>
<rect x="287" y="311" width="4" height="1" fill="#3c3cff"/>
<rect x="343" y="226" width="7" height="5" fill="#3c3cff"/>
<rect x="343" y="233" width="7" height="4" fill="#3c3cff"/>
<rect x="350" y="233" width="6" height="2" fill="#ffd700"/>
<rect x="343" y="237" width="7" height="2" fill="#ba55d3"/>
<rect x="343" y="239" width="7" height="1" fill="#3c3cff"/>
<rect x="350" y="242" width="6" height="2" fill="#3c3cff"/>
<rect x="343" y="244" width="7" height="2" fill="#3c3cff"/>
<rect x="350" y="248" width="6" height="2" fill="#ff0000"/>
<rect x="343" y="250" width="7" height="2" fill="#00bfff"/>
<rect x="343" y="252" width="7" height="3" fill="#ba55d3"/>
<rect x="361" y="163" width="4" height="1" fill="#3c3cff"/>
<rect x="343" y="166" width="13" height="2" fill="#3c3cff"/>
<rect x="350" y="168" width="6" height="2" fill="#3c3cff"/>
<rect x="361" y="168" width="4" height="2" fill="#ff0000"/>
<rect x="365" y="168" width="4" height="2" fill="#ba55d3"/>
<rect x="376" y="175" width="3" height="1" fill="#3c3cff"/>
<rect x="361" y="177" width="4" height="4" fill="#3c3cff"/>
<rect x="373" y="177" width="3" height="2" fill="#3c3cff"/>
<rect x="350" y="183" width="6" height="2" fill="#ff0000"/>
<rect x="343" y="185" width="7" height="2" fill="#3c3cff"/>
<rect x="350" y="190" width="6" height="2" fill="#3c3cff"/>
<rect x="392" y="190" width="5" height="2" fill="#3c3cff"/>
<rect x="343" y="196" width="7" height="4" fill="#3c3cff"/>
<rect x="361" y="198" width="4" height="2" fill="#3c3cff"/>
<rect x="376" y="198" width="3" height="2" fill="#3c3cff"/>
<rect x="373" y="200" width="6" height="2" fill="#00bfff"/>
<rect x="343" y="202" width="7" height="1" fill="#3c3cff"/>
<rect x="361" y="202" width="4" height="5" fill="#ba55d3"/>
<rect x="343" y="211" width="7" height="13" fill="#3c3cff"/>
<rect x="350" y="213" width="6" height="7" fill="#3c3cff"/>
<rect x="361" y="211" width="4" height="2" fill="#ba55d3"/>
<rect x="365" y="213" width="4" height="2" fill="#3c3cff"/>
<rect x="365" y="215" width="4" height="1" fill="#00bfff"/>
<rect x="361" y="216" width="4" height="4" fill="#00bfff"/>
<rect x="365" y="220" width="4" height="4" fill="#ff0000"/>
<rect x="365" y="224" width="4" height="2" fill="#3c3cff"/>
<rect x="376" y="222" width="3" height="2" fill="#ba55d3"/>
<rect x="324" y="222" width="4" height="2" fill="#ba55d3"/>
<rect x="324" y="227" width="4" height="2" fill="#ff0000"/>
<rect x="324" y="231" width="4" height="2" fill="#ba55d3"/>
<rect x="324" y="233" width="4" height="3" fill="#ffd700"/>
<rect x="343" y="226" width="7" height="5" fill="#3c3cff"/>
<rect x="343" y="233" width="7" height="3" fill="#3c3cff"/>
<rect x="350" y="233" width="6" height="2" fill="#ffd700"/>
<rect x="361" y="233" width="4" height="2" fill="#3c3cff"/>
<rect x="365" y="235" width="4" height="1" fill="#ff0000"/>
<rect x="365" y="235" width="4" height="2" fill="#ff0000"/>
<rect x="361" y="246" width="4" height="4" fill="#00bfff"/>
<rect x="301" y="311" width="3" height="2" fill="#3c3cff"/>
<rect x="301" y="313" width="3" height="2" fill="#ba55d3"/>
<rect x="304" y="317" width="3" height="3" fill="#3c3cff"/>
<rect x="294" y="318" width="3" height="2" fill="#3c3cff"/>
<rect x="294" y="333" width="3" height="4" fill="#3c3cff"/>
<rect x="301" y="335" width="3" height="2" fill="#3c3cff"/>
<rect x="301" y="337" width="3" height="2" fill="#00ffff"/>
<rect x="301" y="344" width="3" height="2" fill="#3c3cff"/>
<rect x="301" y="346" width="6" height="2" fill="#3c3cff"/>
<rect x="294" y="346" width="3" height="2" fill="#3c3cff"/>
<rect x="294" y="350" width="3" height="2" fill="#ba55d3"/>
<rect x="503" y="181" width="7" height="2" fill="#ff0000"/>
<rect x="597" y="185" width="7" height="2" fill="#3c3cff"/>
<rect x="611" y="194" width="12" height="2" fill="#ba55d3"/>
<rect x="571" y="198" width="6" height="2" fill="#3c3cff"/>
<rect x="544" y="200" width="7" height="2" fill="#ffd700"/>
<rect x="544" y="209" width="7" height="4" fill="#ffd700"/>
<rect x="517" y="220" width="7" height="2" fill="#ffb6c1"/>
<rect x="517" y="226" width="7" height="1" fill="#ba55d3"/>
<rect x="544" y="224" width="7" height="2" fill="#ba55d3"/>
<rect x="517" y="242" width="7" height="2" fill="#ba55d3"/>
<rect x="611" y="244" width="12" height="4" fill="#ffd700"/>
<rect x="489" y="252" width="4" height="1" fill="#3c3cff"/>
<rect x="544" y="253" width="7" height="2" fill="#ffd700"/>
<rect x="589" y="261" width="8" height="2" fill="#ba55d3"/>
<rect x="544" y="263" width="7" height="2" fill="#ffd700"/>
<rect x="583" y="270" width="6" height="2" fill="#ffd700"/>
<rect x="597" y="270" width="7" height="2" fill="#ffd700"/>
<rect x="493" y="272" width="5" height="2" fill="#3c3cff"/>
<rect x="544" y="276" width="7" height="3" fill="#ffd700"/>
<rect x="623" y="285" width="9" height="2" fill="#ffd700"/>
<rect x="604" y="289" width="7" height="2" fill="#3c3cff"/>
<rect x="571" y="291" width="6" height="1" fill="#ba55d3"/>
<rect x="571" y="292" width="6" height="2" fill="#00ffff"/>
<rect x="530" y="292" width="7" height="2" fill="#ffb6c1"/>
<rect x="604" y="320" width="7" height="2" fill="#ffb6c1"/>
<rect x="468" y="324" width="7" height="2" fill="#ffb6c1"/>
<rect x="571" y="328" width="6" height="3" fill="#ba55d3"/>
<rect x="460" y="333" width="8" height="2" fill="#ffb6c1"/>
<rect x="460" y="335" width="8" height="2" fill="#00ffff"/>
<rect x="673" y="198" width="11" height="2" fill="#ba55d3"/>
<rect x="673" y="207" width="11" height="4" fill="#ffd700"/>
<rect x="673" y="237" width="11" height="2" fill="#ffd700"/>
<rect x="673" y="276" width="11" height="2" fill="#ffb6c1"/>
<rect x="623" y="285" width="14" height="2" fill="#ffd700"/>
<rect x="705" y="185" width="12" height="2" fill="#ba55d3"/>
<rect x="705" y="187" width="12" height="2" fill="#ffd700"/>
<rect x="717" y="198" width="13" height="2" fill="#ffd700"/>
<rect x="717" y="207" width="13" height="2" fill="#ffd700"/>
<rect x="717" y="216" width="13" height="2" fill="#ffd700"/>
<rect x="717" y="224" width="13" height="2" fill="#ffd700"/>
<rect x="717" y="233" width="13" height="2" fill="#ffd700"/>
<rect x="694" y="250" width="11" height="2" fill="#ffd700"/>
<rect x="717" y="265" width="13" height="1" fill="#ffd700"/>
<rect x="717" y="291" width="13" height="1" fill="#ffd700"/>
<rect x="746" y="287" width="22" height="2" fill="#ffd700"/>
<rect x="746" y="304" width="22" height="1" fill="#ffd700"/>
<rect x="717" y="307" width="13" height="2" fill="#ffd700"/>
<rect x="768" y="198" width="17" height="2" fill="#ba55d3"/>
<rect x="460" y="343" width="8" height="1" fill="#ffd700"/>
<rect x="571" y="344" width="6" height="2" fill="#ffd700"/>
<rect x="577" y="354" width="6" height="2" fill="#ffd700"/>
<rect x="551" y="363" width="6" height="2" fill="#00ffff"/>
<rect x="564" y="370" width="7" height="2" fill="#ba55d3"/>
<rect x="551" y="376" width="6" height="2" fill="#ba55d3"/>
<rect x="551" y="378" width="6" height="2" fill="#ffd700"/>
<rect x="571" y="385" width="6" height="2" fill="#ba55d3"/>
<rect x="530" y="389" width="7" height="2" fill="#ba55d3"/>
<rect x="517" y="396" width="7" height="2" fill="#ffd700"/>
<rect x="623" y="398" width="9" height="2" fill="#ffd700"/>
<rect x="551" y="402" width="6" height="2" fill="#ba55d3"/>
<rect x="551" y="404" width="6" height="2" fill="#00ffff"/>
<rect x="557" y="417" width="7" height="2" fill="#3c3cff"/>
<rect x="589" y="428" width="8" height="2" fill="#ffd700"/>
<rect x="503" y="456" width="7" height="2" fill="#3c3cff"/>
<rect x="537" y="458" width="7" height="2" fill="#ffb6c1"/>
<rect x="551" y="456" width="6" height="2" fill="#ba55d3"/>
<rect x="571" y="458" width="6" height="2" fill="#ba55d3"/>
<rect x="597" y="467" width="7" height="2" fill="#ffb6c1"/>
<rect x="489" y="480" width="4" height="2" fill="#ffb6c1"/>
<rect x="551" y="478" width="6" height="2" fill="#ba55d3"/>
<rect x="571" y="486" width="6" height="1" fill="#ba55d3"/>
<rect x="571" y="487" width="6" height="2" fill="#ffd700"/>
<rect x="564" y="502" width="7" height="2" fill="#ba55d3"/>
<rect x="597" y="502" width="7" height="2" fill="#00bfff"/>
<rect x="604" y="513" width="7" height="2" fill="#ba55d3"/>
<rect x="717" y="350" width="13" height="2" fill="#ffd700"/>
<rect x="746" y="357" width="22" height="2" fill="#ffb6c1"/>
<rect x="717" y="367" width="13" height="2" fill="#ffd700"/>
<rect x="684" y="374" width="10" height="2" fill="#ffd700"/>
<rect x="730" y="393" width="16" height="2" fill="#ffd700"/>
<rect x="623" y="398" width="14" height="2" fill="#ffd700"/>
<rect x="705" y="398" width="12" height="2" fill="#ffd700"/>
<rect x="717" y="422" width="13" height="2" fill="#ffd700"/>
<rect x="730" y="437" width="16" height="2" fill="#ffd700"/>
<rect x="694" y="439" width="11" height="2" fill="#ffd700"/>
<rect x="637" y="460" width="13" height="1" fill="#ba55d3"/>
<rect x="637" y="461" width="13" height="2" fill="#ffd700"/>
<rect x="717" y="458" width="13" height="2" fill="#00ffff"/>
<rect x="717" y="467" width="13" height="2" fill="#ffd700"/>
<rect x="637" y="482" width="13" height="2" fill="#ffd700"/>
<rect x="684" y="484" width="10" height="2" fill="#ffd700"/>
<rect x="717" y="484" width="13" height="2" fill="#ffd700"/>
<rect x="717" y="493" width="13" height="2" fill="#ffb6c1"/>
<rect x="717" y="495" width="13" height="2" fill="#ba55d3"/>
<rect x="583" y="515" width="6" height="2" fill="#ffd700"/>
<rect x="571" y="519" width="6" height="2" fill="#ffd700"/>
<rect x="498" y="524" width="5" height="2" fill="#ba55d3"/>
<rect x="604" y="528" width="7" height="2" fill="#ffb6c1"/>
<rect x="604" y="537" width="7" height="2" fill="#ffd700"/>
<rect x="564" y="547" width="7" height="2" fill="#ba55d3"/>
<rect x="530" y="560" width="7" height="2" fill="#ba55d3"/>
<rect x="530" y="562" width="7" height="1" fill="#ffb6c1"/>
<rect x="604" y="573" width="7" height="2" fill="#3c3cff"/>
<rect x="489" y="602" width="4" height="2" fill="#ffb6c1"/>
<rect x="623" y="606" width="9" height="2" fill="#ffd700"/>
<rect x="623" y="608" width="9" height="2" fill="#00ffff"/>
<rect x="597" y="615" width="7" height="4" fill="#ffd700"/>
<rect x="597" y="660" width="7" height="2" fill="#ba55d3"/>
<rect x="589" y="664" width="8" height="2" fill="#ba55d3"/>
<rect x="489" y="664" width="4" height="2" fill="#3c3cff"/>
<rect x="489" y="670" width="4" height="1" fill="#ffd700"/>
<rect x="589" y="673" width="8" height="2" fill="#ffd700"/>
<rect x="571" y="675" width="6" height="2" fill="#ffd700"/>
<rect x="717" y="519" width="13" height="2" fill="#ffd700"/>
<rect x="746" y="519" width="22" height="2" fill="#008000"/>
<rect x="717" y="536" width="13" height="1" fill="#ffd700"/>
<rect x="717" y="541" width="13" height="2" fill="#ffd700"/>
<rect x="717" y="562" width="13" height="1" fill="#ffd700"/>
<rect x="717" y="584" width="13" height="2" fill="#ffd700"/>
<rect x="673" y="593" width="11" height="2" fill="#ffd700"/>
<rect x="694" y="591" width="11" height="2" fill="#ffd700"/>
<rect x="694" y="599" width="11" height="2" fill="#ffd700"/>
<rect x="705" y="597" width="12" height="4" fill="#ffd700"/>
<rect x="661" y="601" width="12" height="1" fill="#ffd700"/>
<rect x="623" y="606" width="27" height="2" fill="#ffd700"/>
<rect x="623" y="608" width="14" height="2" fill="#00ffff"/>
<rect x="717" y="610" width="13" height="2" fill="#ffd700"/>
<rect x="717" y="619" width="13" height="2" fill="#ffd700"/>
<rect x="673" y="625" width="11" height="3" fill="#ffd700"/>
<rect x="717" y="636" width="29" height="2" fill="#ffd700"/>
<rect x="717" y="645" width="13" height="2" fill="#ffd700"/>
<rect x="661" y="647" width="12" height="2" fill="#ba55d3"/>
<rect x="661" y="664" width="12" height="2" fill="#ffb6c1"/>
<rect x="623" y="667" width="14" height="2" fill="#ffb6c1"/>
<rect x="717" y="667" width="13" height="2" fill="#3c3cff"/>
<rect x="717" y="671" width="13" height="2" fill="#ffd700"/>
<rect x="489" y="686" width="4" height="2" fill="#ba55d3"/>
<rect x="489" y="688" width="4" height="2" fill="#ffd700"/>
<rect x="489" y="701" width="4" height="2" fill="#3c3cff"/>
<rect x="441" y="736" width="10" height="2" fill="#00bfff"/>
<rect x="517" y="736" width="7" height="2" fill="#ba55d3"/>
<rect x="530" y="734" width="7" height="2" fill="#ffb6c1"/>
<rect x="530" y="736" width="7" height="2" fill="#008000"/>
<rect x="544" y="736" width="7" height="2" fill="#ba55d3"/>
<rect x="530" y="712" width="7" height="6" fill="#ba55d3"/>
<rect x="537" y="723" width="7" height="2" fill="#00bfff"/>
<rect x="557" y="714" width="7" height="2" fill="#ba55d3"/>
<rect x="557" y="701" width="7" height="2" fill="#00ffff"/>
<rect x="564" y="697" width="7" height="2" fill="#ba55d3"/>
<rect x="571" y="692" width="6" height="1" fill="#ffb6c1"/>
<rect x="571" y="712" width="6" height="2" fill="#ba55d3"/>
<rect x="577" y="706" width="6" height="2" fill="#ffd700"/>
<rect x="577" y="708" width="6" height="2" fill="#00ffff"/>
<rect x="589" y="692" width="15" height="1" fill="#ffd700"/>
<rect x="589" y="714" width="8" height="2" fill="#ffd700"/>
<rect x="589" y="736" width="8" height="2" fill="#3c3cff"/>
<rect x="604" y="734" width="7" height="2" fill="#ffd700"/>
<rect x="661" y="692" width="12" height="1" fill="#ffd700"/>
<rect x="717" y="693" width="13" height="2" fill="#ffd700"/>
<rect x="673" y="701" width="11" height="2" fill="#ffd700"/>
<rect x="717" y="703" width="13" height="2" fill="#ffd700"/>
<rect x="673" y="712" width="11" height="2" fill="#ba55d3"/>
<rect x="673" y="714" width="11" height="2" fill="#ffd700"/>
<rect x="637" y="716" width="13" height="2" fill="#ba55d3"/>
<rect x="661" y="718" width="12" height="1" fill="#ffd700"/>
<rect x="746" y="723" width="22" height="2" fill="#ffd700"/>
<rect x="694" y="731" width="11" height="1" fill="#3c3cff"/>
<rect x="694" y="732" width="11" height="2" fill="#ffb6c1"/>
<rect x="623" y="734" width="14" height="2" fill="#ba55d3"/>
<rect x="623" y="736" width="14" height="2" fill="#00ffff"/>
<rect x="637" y="736" width="13" height="2" fill="#ba55d3"/>
<rect x="717" y="734" width="13" height="2" fill="#00ffff"/>
<rect x="717" y="736" width="13" height="2" fill="#ff0000"/>
<rect x="730" y="736" width="16" height="2" fill="#00bfff"/>
<rect x="184" y="484" width="28" height="37" fill="#ffffff"/>
<rect x="187" y="484" width="4" height="2" fill="#ffd700"/>
<rect x="196" y="484" width="3" height="3" fill="#ffd700"/>
<rect x="208" y="484" width="4" height="2" fill="#00ffff"/>
<rect x="212" y="484" width="10" height="3" fill="#ffd700"/>
<rect x="184" y="486" width="3" height="1" fill="#00ffff"/>
<rect x="187" y="486" width="4" height="3" fill="#ffb6c1"/>
<rect x="193" y="487" width="3" height="2" fill="#00ffff"/>
<rect x="196" y="487" width="3" height="2" fill="#ffb6c1"/>
<rect x="203" y="487" width="5" height="2" fill="#00ffff"/>
<rect x="187" y="489" width="4" height="2" fill="#ffd700"/>
<rect x="196" y="489" width="3" height="4" fill="#00ffff"/>
<rect x="191" y="488" width="2" height="2" fill="#ffb6c1"/>
<rect x="203" y="489" width="5" height="2" fill="#ffb6c1"/>
<rect x="187" y="491" width="6" height="4" fill="#00ffff"/>
<rect x="193" y="491" width="3" height="2" fill="#ffb6c1"/>
<rect x="199" y="491" width="4" height="2" fill="#ffb6c1"/>
<rect x="196" y="493" width="7" height="4" fill="#ffd700"/>
<rect x="191" y="495" width="2" height="2" fill="#00ffff"/>
<rect x="193" y="495" width="3" height="2" fill="#ffb6c1"/>
<rect x="203" y="495" width="5" height="2" fill="#ffb6c1"/>
<rect x="208" y="495" width="4" height="4" fill="#008000"/>
<rect x="187" y="497" width="4" height="2" fill="#ffb6c1"/>
<rect x="193" y="497" width="3" height="5" fill="#00ffff"/>
<rect x="203" y="497" width="5" height="3" fill="#00ffff"/>
<rect x="187" y="499" width="4" height="1" fill="#ff0000"/>
<rect x="199" y="499" width="4" height="1" fill="#00ffff"/>
<rect x="191" y="500" width="2" height="2" fill="#ffd700"/>
<rect x="203" y="500" width="9" height="2" fill="#ffd700"/>
<rect x="196" y="501" width="3" height="1" fill="#00ffff"/>
<rect x="187" y="502" width="4" height="2" fill="#ffb6c1"/>
<rect x="191" y="502" width="5" height="2" fill="#00ffff"/>
<rect x="196" y="502" width="12" height="4" fill="#ffd700"/>
<rect x="208" y="502" width="4" height="2" fill="#00ffff"/>
<rect x="184" y="504" width="7" height="2" fill="#ffd700"/>
<rect x="191" y="504" width="2" height="2" fill="#00ffff"/>
<rect x="193" y="504" width="3" height="4" fill="#ffd700"/>
<rect x="196" y="504" width="3" height="2" fill="#00ffff"/>
<rect x="208" y="504" width="4" height="2" fill="#ffd700"/>
<rect x="187" y="506" width="12" height="2" fill="#ffd700"/>
<rect x="203" y="506" width="5" height="6" fill="#ffd700"/>
<rect x="208" y="506" width="4" height="2" fill="#008000"/>
<rect x="187" y="508" width="9" height="2" fill="#ffd700"/>
<rect x="208" y="508" width="4" height="4" fill="#ffd700"/>
<rect x="184" y="510" width="15" height="2" fill="#ffd700"/>
<rect x="184" y="512" width="3" height="3" fill="#ffb6c1"/>
<rect x="187" y="512" width="4" height="3" fill="#00ffff"/>
<rect x="191" y="512" width="2" height="1" fill="#ffd700"/>
<rect x="196" y="512" width="3" height="7" fill="#ffd700"/>
<rect x="203" y="513" width="5" height="2" fill="#ffd700"/>
<rect x="208" y="513" width="4" height="2" fill="#008000"/>
<rect x="184" y="515" width="3" height="2" fill="#00ffff"/>
<rect x="187" y="515" width="6" height="4" fill="#ffd700"/>
<rect x="193" y="517" width="3" height="2" fill="#ffd700"/>
<rect x="184" y="517" width="3" height="2" fill="#00bfff"/>
<rect x="187" y="519" width="4" height="2" fill="#ffd700"/>
<rect x="193" y="519" width="3" height="2" fill="#00ffff"/>
</g>
<g id="grid" stroke="#b0b0b0" stroke-width="1" fill="none">
<line x1="138.5" y1="100.5" x2="138.5" y2="793.5"/>
<line x1="230.5" y1="100.5" x2="230.5" y2="793.5"/>
<line x1="323.5" y1="100.5" x2="323.5" y2="793.5"/>
<line x1="415.5" y1="100.5" x2="415.5" y2="793.5"/>
<line x1="508.5" y1="100.5" x2="508.5" y2="793.5"/>
<line x1="600.5" y1="100.5" x2="600.5" y2="793.5"/>
<line x1="692.5" y1="100.5" x2="692.5" y2="793.5"/>
<line x1="785.5" y1="100.5" x2="785.5" y2="793.5"/>
<line x1="92.5" y1="793.5" x2="785.5" y2="793.5"/>
<line x1="92.5" y1="669.5" x2="785.5" y2="669.5"/>
<line x1="92.5" y1="545.5" x2="785.5" y2="545.5"/>
<line x1="92.5" y1="421.5" x2="785.5" y2="421.5"/>
<line x1="92.5" y1="298.5" x2="785.5" y2="298.5"/>
<line x1="92.5" y1="174.5" x2="785.5" y2="174.5"/>
</g>
<g id="cbar">
<rect x="816.5" y="712" width="30" height="91" fill="#008000"/>
<rect x="816.5" y="622" width="30" height="90" fill="#ff0000"/>
<rect x="816.5" y="532" width="30" height="90" fill="#3c3cff"/>
<rect x="816.5" y="442" width="30" height="90" fill="#ba55d3"/>
<rect x="816.5" y="352" width="30" height="90" fill="#ffb6c1"/>
<rect x="816.5" y="262" width="30" height="90" fill="#ffd700"/>
<rect x="816.5" y="172" width="30" height="90" fill="#00ffff"/>
<rect x="816.5" y="82" width="30" height="90" fill="#00bfff"/>
<rect x="816.5" y="82.5" width="30" height="720" fill="none" stroke="#000" stroke-width="1.07"/>
</g>
<rect x="92.5" y="100.5" width="693" height="693" fill="none" stroke="#000" stroke-width="1.07"/>
<g id="ticks" stroke="#000" stroke-width="1.07">
<line x1="138.5" y1="793.5" x2="138.5" y2="798.7"/>
<line x1="230.5" y1="793.5" x2="230.5" y2="798.7"/>
<line x1="323.5" y1="793.5" x2="323.5" y2="798.7"/>
<line x1="415.5" y1="793.5" x2="415.5" y2="798.7"/>
<line x1="508.5" y1="793.5" x2="508.5" y2="798.7"/>
<line x1="600.5" y1="793.5" x2="600.5" y2="798.7"/>
<line x1="692.5" y1="793.5" x2="692.5" y2="798.7"/>
<line x1="785.5" y1="793.5" x2="785.5" y2="798.7"/>
<line x1="87.3" y1="793.5" x2="92.5" y2="793.5"/>
<line x1="87.3" y1="669.5" x2="92.5" y2="669.5"/>
<line x1="87.3" y1="545.5" x2="92.5" y2="545.5"/>
<line x1="87.3" y1="421.5" x2="92.5" y2="421.5"/>
<line x1="87.3" y1="298.5" x2="92.5" y2="298.5"/>
<line x1="87.3" y1="174.5" x2="92.5" y2="174.5"/>
<line x1="846.5" y1="757.5" x2="851.5" y2="757.5"/>
<line x1="846.5" y1="667.5" x2="851.5" y2="667.5"/>
<line x1="846.5" y1="577.5" x2="851.5" y2="577.5"/>
<line x1="846.5" y1="487.5" x2="851.5" y2="487.5"/>
<line x1="846.5" y1="397.5" x2="851.5" y2="397.5"/>
<line x1="846.5" y1="307.5" x2="851.5" y2="307.5"/>
<line x1="846.5" y1="217.5" x2="851.5" y2="217.5"/>
<line x1="846.5" y1="127.5" x2="851.5" y2="127.5"/>
<line x1="846.5" y1="802.5" x2="849.5" y2="802.5" stroke-width="0.8"/>
<line x1="846.5" y1="712.5" x2="849.5" y2="712.5" stroke-width="0.8"/>
<line x1="846.5" y1="622.5" x2="849.5" y2="622.5" stroke-width="0.8"/>
<line x1="846.5" y1="532.5" x2="849.5" y2="532.5" stroke-width="0.8"/>
<line x1="846.5" y1="442.5" x2="849.5" y2="442.5" stroke-width="0.8"/>
<line x1="846.5" y1="352.5" x2="849.5" y2="352.5" stroke-width="0.8"/>
<line x1="846.5" y1="262.5" x2="849.5" y2="262.5" stroke-width="0.8"/>
<line x1="846.5" y1="172.5" x2="849.5" y2="172.5" stroke-width="0.8"/>
<line x1="846.5" y1="82.5" x2="849.5" y2="82.5" stroke-width="0.8"/>
</g>
<g id="ticklabels" font-size="16.3">
<text x="138.45" y="814.6" text-anchor="middle">2</text>
<text x="230.85" y="814.6" text-anchor="middle">4</text>
<text x="323.25" y="814.6" text-anchor="middle">6</text>
<text x="415.65" y="814.6" text-anchor="middle">8</text>
<text x="508.05" y="814.6" text-anchor="middle">10</text>
<text x="600.45" y="814.6" text-anchor="middle">12</text>
<text x="692.85" y="814.6" text-anchor="middle">14</text>
<text x="785.25" y="814.6" text-anchor="middle">16</text>
<text x="80.9" y="799.4" text-anchor="end">0</text>
<text x="80.9" y="675.4" text-anchor="end">200</text>
<text x="80.9" y="551.4" text-anchor="end">400</text>
<text x="80.9" y="427.4" text-anchor="end">600</text>
<text x="80.9" y="304.4" text-anchor="end">800</text>
<text x="80.9" y="180.4" text-anchor="end">1000</text>
<text x="856.1" y="762.85">X-mode</text>
<text x="856.87" y="672.85">Vertical</text>
<text x="855.4" y="582.85">NNW</text>
<text x="856.46" y="492.85">W</text>
<text x="855.92" y="402.85">SSW</text>
<text x="855.92" y="312.85">SSE</text>
<text x="855.4" y="222.85">E</text>
<text x="855.4" y="132.85">NNE</text>
</g>
<text x="426.35" y="32.3" font-size="28.89" text-anchor="middle">NAL CADI - Nov 26 02:45:00 2023 UTC</text>
<text x="437.7" y="841.9" font-size="24" text-anchor="middle">Frequency (MHz)</text>
<text transform="translate(27.7,447.2) rotate(-90)" font-size="24" text-anchor="middle">Virtual height (km)</text>
<text transform="translate(942.9,442.8) rotate(-90)" font-size="24" text-anchor="middle">Azimuth Direction</text>
</svg>
</body></html>
